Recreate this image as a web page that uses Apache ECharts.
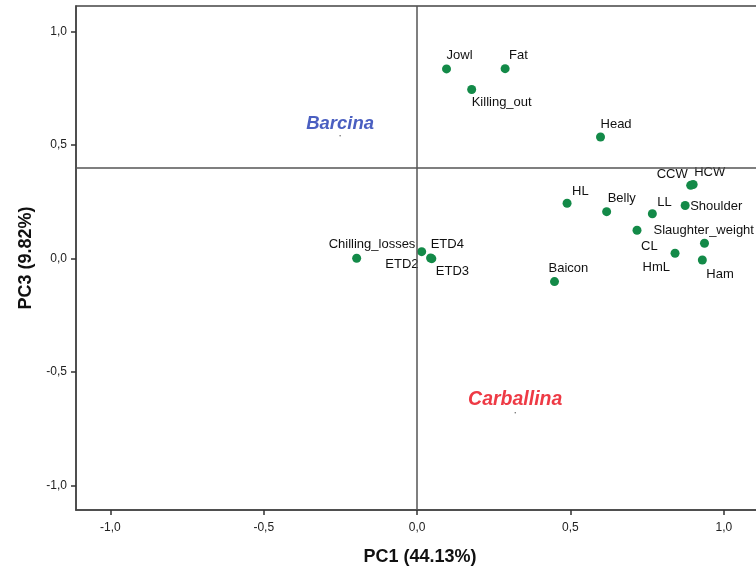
<!DOCTYPE html>
<html><head><meta charset="utf-8">
<script src="https://cdn.jsdelivr.net/npm/echarts@6/dist/echarts.min.js"></script>
<style>html,body{margin:0;padding:0;background:#fff}#c{width:756px;height:569px}</style>
</head><body><div id="c"></div>
<script>
// Variable names and PCA loadings (PC1, PC3)
const names = ["Jowl","Fat","Killing_out","Head","CCW","HCW","HL","Belly","LL","Shoulder","Slaughter_weight","CL","HmL","Ham","ETD4","ETD3","ETD2","Chilling_losses","Baicon"];
const pc1 = [0.096,0.287,0.178,0.598,0.892,0.900,0.489,0.618,0.767,0.874,0.937,0.717,0.841,0.930,0.015,0.048,0.044,-0.197,0.448];
const pc3 = [0.835,0.836,0.744,0.535,0.322,0.326,0.243,0.206,0.197,0.233,0.067,0.124,0.023,-0.007,0.030,-0.001,0.002,0.001,-0.102];
// label anchor: [align, dx, dy]
const labelPos = [
  ["left",0,-13],["left",4,-13],["left",0,13],["left",0,-13],["right",-3,-11],["left",1,-12],
  ["left",5,-12],["left",1,-13],["left",5,-11],["left",5,1],["left",-51,-13],["left",4,16],
  ["right",-5,14],["left",4,14],["left",9,-7],["left",4,13],["right",-12,6],["left",-28,-14],["left",-6,-13]
];
// Group annotations
const groupNames = ["Barcina","Carballina"];
const groupX = [-0.251, 0.320];
const groupY = [0.540, -0.680];
const groupColors = ["#4a5fc1","#ee3a45"];
const groupFont = [18.5, 19.5];
// Reference lines
const refX = 0;
const refY = 0.4;
const tickVals = [-1.0,-0.5,0.0,0.5,1.0];

const fmt = v => v.toFixed(1).replace('.', ',');
const FF = 'Liberation Sans, Arial, sans-serif';

const pts = names.map((n,i)=>({
  value:[pc1[i],pc3[i]], name:n,
  label:{show:true, position:'inside', formatter:n, align:labelPos[i][0], verticalAlign:'middle',
    offset:[labelPos[i][1],labelPos[i][2]], color:'#111', fontSize:13, fontFamily:FF, opacity:1, textBorderWidth:0}
}));
const grp = groupNames.map((n,i)=>({
  value:[groupX[i],groupY[i]], name:n,
  label:{show:true, position:'top', distance:0, offset:[0,-2], formatter:n, color:groupColors[i], fontSize:groupFont[i], fontWeight:'bold', fontStyle:'italic', fontFamily:FF, opacity:1}
}));

const chart = echarts.init(document.getElementById('c'), null, {renderer:'canvas'});
const axisCommon = {
  type:'value', splitLine:{show:false},
  axisLine:{show:true, onZero:false, lineStyle:{color:'#444', width:1.5}},
  axisTick:{show:true, length:5, inside:false, customValues:tickVals, lineStyle:{color:'#333', width:1.5}},
  axisLabel:{customValues:tickVals, formatter:fmt, color:'#222', fontSize:12, fontFamily:FF},
  nameLocation:'middle',
  nameTextStyle:{fontSize:18, fontWeight:'bold', color:'#111', fontFamily:FF}
};
chart.setOption({
  animation:false,
  backgroundColor:'#fff',
  grid:{left:76, top:6, right:-8, bottom:59, show:true, borderColor:'#444', borderWidth:1.5, containLabel:false, outerBoundsMode:'none'},
  xAxis:Object.assign({}, axisCommon, {min:-1.112, max:1.131, name:'PC1 (44.13%)', nameGap:38,
    axisLabel:Object.assign({}, axisCommon.axisLabel, {margin:12})}),
  yAxis:Object.assign({}, axisCommon, {min:-1.108, max:1.112, name:'PC3 (9.82%)', nameGap:41,
    axisLabel:Object.assign({}, axisCommon.axisLabel, {margin:9})}),
  series:[
    {type:'scatter', symbolSize:9, itemStyle:{color:'#138a48', opacity:1}, data:pts, z:3,
     emphasis:{disabled:true},
     markLine:{silent:true, symbol:'none', label:{show:false},
       lineStyle:{color:'#555', width:1.5, type:'solid', opacity:1},
       data:[{xAxis:refX},{yAxis:refY}]}},
    {type:'scatter', symbolSize:1.5, itemStyle:{color:'#666', opacity:1}, data:grp, z:2}
  ]
});
</script></body></html>
